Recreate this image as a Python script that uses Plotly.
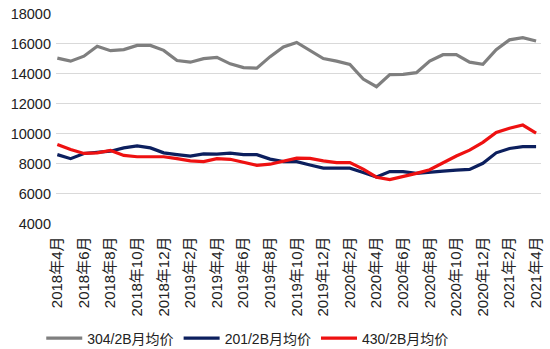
import plotly.graph_objects as go

months = ["2018年4月", "2018年5月", "2018年6月", "2018年7月", "2018年8月", "2018年9月",
          "2018年10月", "2018年11月", "2018年12月", "2019年1月", "2019年2月", "2019年3月",
          "2019年4月", "2019年5月", "2019年6月", "2019年7月", "2019年8月", "2019年9月",
          "2019年10月", "2019年11月", "2019年12月", "2020年1月", "2020年2月", "2020年3月",
          "2020年4月", "2020年5月", "2020年6月", "2020年7月", "2020年8月", "2020年9月",
          "2020年10月", "2020年11月", "2020年12月", "2021年1月", "2021年2月", "2021年3月",
          "2021年4月"]

s304 = [15050, 14850, 15180, 15850, 15550, 15620, 15900, 15900, 15570, 14890,
        14780, 15020, 15100, 14670, 14420, 14380, 15150, 15800, 16100, 15550,
        15020, 14850, 14630, 13650, 13140, 13950, 13960, 14080, 14850, 15280,
        15280, 14780, 14640, 15620, 16270, 16420, 16200]

s201 = [8600, 8330, 8680, 8770, 8830, 9050, 9180, 9050, 8720, 8600,
        8500, 8650, 8640, 8700, 8600, 8600, 8300, 8130, 8130, 7910,
        7700, 7700, 7700, 7410, 7100, 7470, 7470, 7350, 7450, 7500,
        7570, 7610, 8020, 8720, 9010, 9130, 9130]

s430 = [9270, 8940, 8680, 8720, 8880, 8550, 8460, 8460, 8460, 8330,
        8180, 8130, 8330, 8290, 8070, 7890, 7960, 8180, 8370, 8350,
        8180, 8070, 8070, 7630, 7090, 6930, 7130, 7350, 7590, 8070,
        8510, 8900, 9420, 10080, 10360, 10580, 10040]

series = [("304/2B月均价", s304, "#7f7f7f"),
          ("201/2B月均价", s201, "#0c1f5e"),
          ("430/2B月均价", s430, "#ee1111")]

x_idx = list(range(len(months)))
tick_idx = x_idx[::2]
tick_txt = months[::2]

fig = go.Figure()
for name, vals, col in series:
    fig.add_trace(go.Scatter(x=x_idx, y=vals, mode="lines", name=name,
                             line=dict(color=col, width=3.2)))

font_fam = "Liberation Sans, Noto Sans CJK SC, sans-serif"
fig.update_layout(
    width=550, height=349,
    margin=dict(l=56, r=6, t=12, b=124),
    plot_bgcolor="white", paper_bgcolor="white",
    font=dict(family=font_fam, size=13, color="#222"),
    showlegend=True,
    legend=dict(orientation="h", x=0.075, xanchor="left",
                xref="container", yref="container", y=0.03, yanchor="middle",
                font=dict(size=14, color="#222"),
                itemwidth=36, tracegroupgap=0),
    xaxis=dict(range=[-0.1, 36.37], tickmode="array", tickvals=tick_idx,
               ticktext=tick_txt, tickangle=-90, showgrid=False,
               zeroline=False, showline=False, ticks="",
               tickfont=dict(size=15), ticklabelstandoff=9),
    yaxis=dict(range=[4000, 18000], dtick=2000, tickformat="d", showgrid=True,
               gridcolor="#d9d9d9", gridwidth=1, zeroline=False,
               showline=False, ticks="", tickfont=dict(size=14.5),
               ticklabelstandoff=4),
)

fig.write_html("out.html")
